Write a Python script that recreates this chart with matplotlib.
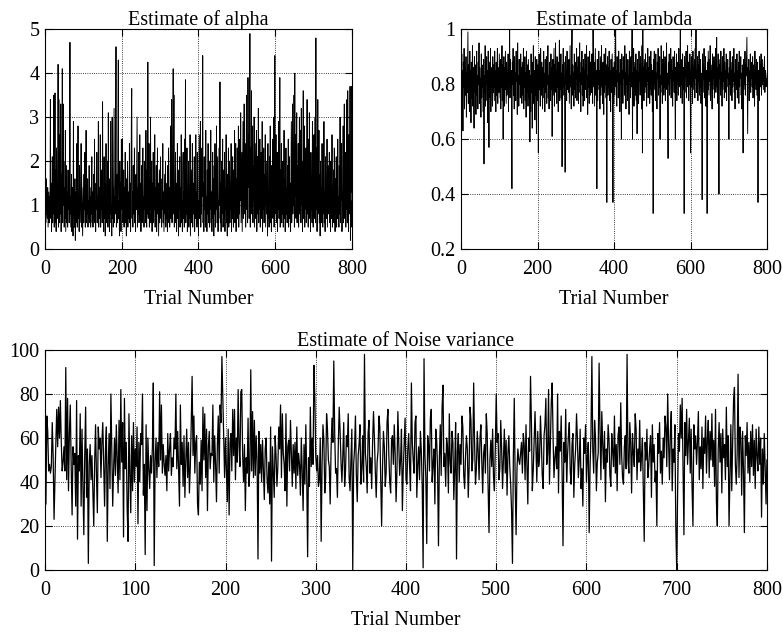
import matplotlib
matplotlib.use("Agg")
import matplotlib.pyplot as plt
from matplotlib.ticker import FuncFormatter

# estimated values, one per trial (1..800)
alpha = [
    2.2, 0.6, 1.6, 0.8, 1.1, 0.7, 1.4, 0.5, 0.9, 1.3, 0.6, 1.2, 0.9, 3.4, 0.7, 1.5, 0.4, 1.0, 2.1, 0.6,
    1.3, 0.8, 3.5, 0.5, 1.1, 3.55, 0.6, 1.8, 0.4, 2.3, 0.9, 1.5, 0.7, 4.2, 0.5, 3.4, 1.2, 0.6, 2.6, 0.8,
    3.3, 0.4, 1.7, 0.9, 4.1, 0.6, 3.3, 1.0, 2.0, 0.5, 1.4, 0.7, 2.7, 0.4, 1.1, 1.9, 0.6, 1.3, 0.5, 1.8,
    0.9, 1.5, 0.6, 2.0, 4.7, 0.8, 1.2, 0.5, 1.7, 0.4, 1.0, 1.4, 0.3, 2.9, 0.7, 1.1, 0.5, 1.6, 0.2, 0.9,
    1.3, 0.6, 2.4, 0.5, 1.0, 2.8, 0.7, 1.2, 0.4, 1.9, 0.6, 1.1, 0.9, 2.4, 0.5, 1.4, 0.8, 0.3, 1.0, 1.7,
    0.6, 1.2, 0.9, 2.2, 0.5, 1.0, 2.7, 0.6, 1.3, 0.8, 1.6, 0.5, 1.1, 0.7, 1.9, 0.6, 1.0, 1.4, 0.5, 1.2,
    0.8, 2.1, 0.6, 1.3, 0.5, 1.0, 1.7, 0.7, 2.5, 0.6, 1.1, 0.4, 1.5, 0.9, 2.2, 0.6, 1.2, 0.8, 2.9, 0.5,
    1.4, 0.7, 1.0, 2.6, 0.5, 1.3, 0.9, 1.8, 0.6, 3.35, 0.8, 1.2, 0.4, 2.1, 0.7, 1.5, 0.3, 1.1, 2.4, 0.6,
    1.3, 0.9, 2.0, 0.5, 3.1, 0.7, 1.2, 0.4, 1.6, 0.8, 2.9, 0.6, 1.0, 0.3, 3.0, 0.7, 1.4, 0.5, 1.9, 3.2,
    0.6, 1.2, 0.8, 2.3, 4.6, 0.5, 1.0, 1.7, 0.6, 2.8, 4.3, 0.7, 1.1, 0.3, 2.0, 0.8, 1.5, 0.4, 2.5, 0.9,
    1.2, 2.5, 0.6, 1.0, 1.8, 0.5, 1.4, 0.9, 2.2, 0.6, 1.1, 0.3, 1.6, 0.8, 2.0, 0.5, 1.3, 0.7, 1.0, 2.4,
    0.6, 1.5, 0.4, 1.1, 2.9, 3.65, 0.7, 1.3, 0.5, 1.9, 0.8, 1.0, 2.3, 0.6, 1.2, 0.4, 1.7, 0.9, 2.1, 3.0,
    0.5, 1.4, 0.8, 2.2, 0.6, 1.1, 2.6, 0.7, 1.5, 0.4, 1.0, 1.9, 0.6, 1.3, 2.3, 0.8, 1.2, 0.5, 2.0, 0.9,
    1.4, 0.6, 2.7, 1.0, 0.5, 1.8, 0.8, 4.25, 0.7, 1.3, 2.4, 0.5, 1.6, 0.9, 3.0, 0.6, 1.1, 2.0, 0.4, 1.5,
    0.8, 2.2, 0.6, 1.2, 0.9, 2.6, 0.5, 1.4, 0.7, 1.9, 0.4, 1.1, 2.3, 0.8, 1.5, 0.3, 1.0, 1.8, 0.6, 1.3,
    2.1, 0.7, 1.1, 0.5, 1.6, 0.9, 2.4, 0.6, 1.3, 0.4, 1.0, 1.7, 0.8, 2.0, 0.5, 1.2, 0.7, 1.5, 0.4, 1.9,
    0.9, 2.3, 0.6, 1.4, 0.5, 1.1, 2.8, 0.7, 1.6, 3.4, 0.6, 1.2, 2.0, 4.1, 0.8, 3.5, 0.5, 1.3, 0.9, 2.2,
    0.6, 1.5, 0.4, 1.0, 2.4, 0.7, 1.8, 0.3, 1.2, 0.9, 2.1, 0.5, 1.4, 0.8, 2.6, 0.6, 1.1, 0.4, 1.7, 2.2,
    0.7, 1.3, 0.5, 2.5, 1.0, 3.85, 0.6, 1.6, 0.8, 2.3, 0.4, 1.2, 0.9, 2.0, 0.5, 1.4, 0.7, 2.6, 0.3, 1.1,
    1.8, 0.6, 1.0, 2.4, 0.5, 1.5, 0.8, 1.2, 2.1, 0.4, 1.6, 0.7, 2.6, 0.9, 1.3, 0.5, 2.2, 0.6, 1.1, 0.3,
    1.4, 2.6, 0.7, 1.0, 2.9, 0.5, 1.7, 0.8, 2.3, 1.2, 4.4, 0.6, 1.5, 0.4, 2.1, 0.9, 1.3, 0.5, 2.7, 0.7,
    1.2, 0.4, 1.8, 0.8, 2.4, 0.6, 1.1, 2.0, 0.5, 1.5, 0.9, 2.7, 0.6, 1.3, 0.4, 1.0, 2.2, 0.7, 1.6, 0.3,
    1.9, 0.8, 2.4, 0.5, 1.2, 0.9, 2.8, 0.6, 1.4, 2.1, 0.4, 1.1, 0.7, 2.3, 1.0, 3.8, 0.6, 1.5, 0.4, 2.0,
    0.8, 1.3, 2.5, 0.5, 1.0, 1.8, 0.7, 2.2, 0.4, 1.4, 0.9, 2.6, 0.6, 1.2, 0.3, 1.7, 0.8, 2.3, 0.5, 1.1,
    2.0, 0.6, 1.5, 0.9, 2.4, 0.4, 1.3, 0.7, 2.1, 1.0, 0.5, 1.8, 0.8, 2.7, 0.6, 1.2, 2.4, 0.4, 1.6, 0.9,
    2.3, 0.7, 1.4, 2.8, 0.5, 1.9, 0.8, 2.5, 1.1, 3.1, 0.6, 1.5, 2.2, 0.4, 1.7, 2.9, 0.7, 1.2, 3.3, 0.8,
    1.6, 2.4, 0.5, 1.3, 3.5, 0.9, 2.1, 0.6, 3.9, 1.4, 2.6, 0.7, 1.8, 4.9, 0.5, 2.3, 1.0, 3.6, 0.8, 1.5,
    2.8, 0.6, 1.9, 1.1, 3.0, 0.5, 1.6, 2.4, 0.7, 1.2, 2.7, 0.4, 1.5, 2.1, 0.8, 3.2, 0.6, 1.3, 0.9, 2.5,
    0.5, 1.8, 2.2, 0.7, 1.1, 2.9, 0.4, 1.4, 0.9, 2.3, 0.6, 1.7, 1.0, 2.6, 0.5, 1.2, 2.0, 0.8, 1.5, 0.3,
    2.4, 0.7, 1.3, 0.5, 2.1, 1.0, 2.8, 0.6, 1.6, 0.4, 1.9, 0.9, 2.5, 0.7, 1.2, 3.0, 0.5, 1.4, 4.4, 0.8,
    1.5, 2.6, 0.6, 1.1, 2.2, 0.4, 1.7, 0.9, 2.9, 0.7, 1.3, 3.9, 0.5, 1.8, 1.0, 2.4, 0.6, 1.4, 0.8, 2.0,
    0.5, 1.2, 2.7, 0.7, 1.6, 0.4, 1.0, 2.3, 0.8, 1.4, 0.6, 1.9, 0.9, 2.5, 0.5, 1.1, 2.1, 0.7, 1.5, 0.4,
    1.8, 2.9, 0.6, 1.3, 3.3, 0.8, 2.2, 1.0, 3.5, 0.5, 4.0, 1.2, 2.6, 0.7, 1.6, 3.1, 0.6, 1.9, 0.9, 2.4,
    0.5, 1.4, 3.0, 0.8, 1.1, 2.7, 0.6, 3.2, 1.0, 2.0, 0.4, 1.5, 3.6, 0.7, 1.2, 2.8, 0.5, 1.7, 0.9, 2.3,
    0.6, 1.3, 3.4, 0.8, 1.9, 0.5, 2.5, 1.0, 3.1, 0.7, 1.4, 0.4, 2.2, 0.9, 1.6, 0.6, 2.9, 1.1, 0.5, 1.8,
    2.6, 0.7, 1.2, 3.0, 0.6, 4.8, 0.9, 2.3, 0.4, 1.5, 3.4, 0.8, 1.1, 2.7, 0.6, 1.7, 0.3, 2.0, 0.9, 1.4,
    0.6, 2.4, 1.0, 0.5, 1.8, 0.8, 2.9, 0.6, 1.3, 0.4, 2.1, 0.9, 1.6, 0.7, 2.5, 0.5, 1.2, 1.9, 0.8, 1.4,
    2.2, 0.6, 1.5, 0.4, 2.0, 1.1, 0.7, 2.6, 0.5, 1.3, 0.9, 1.8, 0.6, 2.3, 1.0, 0.4, 1.6, 0.8, 2.1, 0.5,
    1.4, 0.7, 2.5, 0.9, 1.2, 0.5, 1.9, 0.8, 3.0, 0.6, 1.6, 1.1, 2.4, 0.4, 1.3, 0.9, 2.8, 0.6, 1.5, 3.3,
    0.7, 1.2, 2.2, 0.5, 1.8, 0.9, 3.4, 0.6, 3.6, 1.0, 0.4, 2.6, 0.8, 1.4, 3.7, 0.2, 1.1, 0.5, 3.7, 1.3,
]

lam = [
    .82, .91, .74, .85, .63, .88, .79, .93, .71, .86, .80, .76, .90, .68, .84, .77, .89, .99, .73, .87,
    .81, .70, .92, .78, .85, .66, .88, .75, .83, .94, .72, .86, .79, .64, .90, .81, .77, .87, .69, .84,
    .92, .76, .83, .71, .88, .80, .95, .73, .86, .78, .82, .68, .91, .75, .87, .79, .84, .70, .89, .51,
    .83, .77, .94, .72, .86, .80, .90, .74, .85, .66, .92, .78, .57, .88, .81, .75, .93, .70, .86, .79,
    .84, .72, .90, .77, .87, .81, .74, .92, .79, .85, .70, .88, .76, .83, .93, .73, .86, .80, .77, .91,
    .82, .75, .89, .71, .85, .79, .94, .74, .87, .60, .83, .90, .72, .86, .78, .92, .81, .73, .88, .76,
    .84, .79, .91, .70, .87, .82, 1.0, .75, .89, .78, .85, .73, .42, .88, .80, .93, .76, .86, .71, .90,
    .79, .84, .74, .92, .81, .87, .69, .95, .77, .83, .72, .89, .80, .85, .75, .91, .78, .86, .73, .88,
    .82, .76, .93, .71, .86, .79, .90, .74, .84, .68, .92, .80, .77, .87, .72, .89, .81, .75, .85, .59,
    .83, .70, .91, .77, .86, .64, .88, .79, .94, .73, .85, .81, .67, .90, .76, .84, .62, .89, .80, .74,
    .87, .55, .83, .91, .78, .85, .72, .93, .80, .76, .88, .82, .71, .86, .79, .92, .75, .84, .70, .89,
    .81, .77, .90, .73, .86, .80, .94, .75, .83, .71, .88, .79, .85, .74, .91, .78, .86, .61, .82, .89,
    .76, .84, .93, .72, .87, .80, .95, .77, .85, .73, .90, .79, .83, .70, .88, .81, .96, .74, .86, .78,
    .91, .75, .84, .50, .87, .79, .93, .76, .82, .88, .72, .48, .90, .80, .85, .74, .92, .78, .86, .81,
    .77, .89, .73, .85, .94, .79, .83, .71, .90, 1.0, .76, .87, .80, .84, .72, .91, .78, .86, .75, .88,
    .82, .93, .74, .86, .79, .90, .73, .85, .81, .95, .77, .84, .70, .88, .80, .92, .76, .86, .72, .89,
    .80, .85, .74, .91, .78, .87, .82, .94, .75, .83, .69, .90, .79, .86, .73, .92, .81, .76, .88, .84,
    .77, .91, .80, .73, 1.0, .86, .79, .88, .72, .84, .93, .76, .85, .81, .42, .89, .74, .87, .80, .92,
    .78, .85, .71, .90, .82, .76, .94, .79, .86, .73, .88, .81, .69, .91, .77, .84, .80, .93, .75, .87,
    .37, .83, .90, .76, .86, .79, .92, .74, .85, .81, .70, .89, .77, .84, .91, .79, .37, .86, .73, .88,
    .82, .76, .93, 1.0, .79, .85, .72, .90, .81, .87, .75, .92, .78, .84, .70, .89, .80, .86, .60, .91,
    .77, .85, .73, .90, .82, .88, .76, .94, .79, .84, .71, .91, .80, .86, .74, .89, .78, .83, .69, .92,
    .81, .87, .75, .90, .79, .85, 1.0, .60, .84, .78, .93, .72, .86, .80, .88, .76, .91, .74, .85, .62,
    .89, .79, .84, .73, .92, .81, .87, .76, .90, .78, .85, .71, .94, .55, 1.0, .80, .86, .74, .89, .82,
    .77, .91, .79, .85, .72, .88, .81, .93, .75, .86, .80, .90, .73, .84, .78, .92, .76, .87, .81, .70,
    .85, .33, .89, .78, .92, .80, .86, .74, .91, .79, .84, .71, .88, .82, .93, .76, .85, .79, .90, .60,
    .83, .77, .94, .80, .86, .73, .89, .81, .92, .76, .85, .79, .90, .74, .87, .82, .95, .78, .84, .72,
    .53, .88, .80, .91, .76, .86, .82, .93, .75, .89, .79, .85, .72, .90, .81, .87, .77, .92, .80, .60,
    .86, .78, .91, .74, .88, .81, .84, .76, .93, .79, .87, .82, 1.0, .75, .89, .80, .85, .73, .91, .78,
    .86, .81, .33, .90, .77, .87, .83, .92, .75, .85, .79, .94, .81, .88, .74, .86, .80, .91, .76, .55,
    .84, .90, .79, .87, .73, .92, .81, .86, .78, .89, .75, .93, .82, 1.0, .77, .85, .80, .90, .74, .87,
    .81, .92, .76, .86, .79, .89, .73, .84, .80, .38, .91, .77, .87, .82, .93, .75, .86, .79, .90, .72,
    .85, .80, .33, .88, .78, .92, .84, .76, .89, .81, .94, .74, .87, .80, .85, .71, .91, .78, .86, .82,
    .90, .75, .88, .81, .93, .77, .85, .97, .79, .86, .73, .91, .80, .40, .87, .82, .89, .76, .92, .80,
    .84, .72, .90, .78, .86, .81, .93, .75, .88, .80, .85, .77, .91, .74, .87, .82, .89, .79, .84, .60,
    .86, .80, .92, .76, .88, .82, .85, .74, .90, .79, .87, .81, .93, .77, .84, .71, .89, .80, .86, .78,
    .91, .75, .85, .80, .88, .73, .92, .79, .86, .82, .90, .76, .84, .71, .87, .81, .55, .89, .78, .85,
    .80, .92, .76, .87, .83, .90, .97, .79, .62, .86, .81, .89, .74, .85, .80, .91, .77, .88, .82, .86,
    .79, .90, .75, .87, .81, .84, .72, .92, .80, .86, .78, .89, .76, .83, .88, .37, .81, .85, .74, .90,
    .82, .87, .79, .91, .76, .85, .80, .89, .84, .78, .86, .81, .90, .77, .85, .83, .79, .82, .80, .84,
]

noise_var = [
    30, 70, 63, 45, 48, 44, 47, 67, 52, 23, 41, 58, 73, 56, 74, 60, 77, 58, 45, 49,
    56, 45, 92, 41, 78, 36, 62, 75, 47, 25, 56, 48, 53, 29, 77, 14, 52, 45, 71, 29,
    64, 38, 16, 52, 74, 33, 55, 3, 48, 57, 41, 52, 36, 20, 49, 66, 43, 26, 65, 55,
    60, 42, 58, 67, 48, 29, 55, 65, 13, 47, 62, 37, 80, 54, 29, 46, 60, 43, 66, 51,
    35, 68, 41, 82, 49, 67, 15, 78, 46, 58, 28, 13, 71, 44, 26, 61, 36, 67, 40, 55,
    47, 65, 21, 58, 40, 62, 57, 80, 34, 48, 7, 66, 27, 60, 46, 37, 52, 44, 56, 85,
    2, 49, 60, 42, 58, 47, 81, 50, 75, 44, 57, 48, 43, 52, 36, 62, 45, 55, 62, 43,
    51, 47, 60, 55, 80, 46, 63, 45, 29, 75, 48, 58, 38, 61, 33, 50, 64, 42, 58, 35,
    47, 66, 88, 52, 70, 44, 58, 61, 30, 25, 49, 39, 59, 36, 74, 50, 71, 42, 64, 27,
    56, 63, 46, 53, 52, 75, 40, 61, 48, 31, 57, 70, 44, 75, 67, 97, 78, 59, 42, 60,
    45, 31, 64, 25, 58, 62, 45, 73, 52, 73, 41, 60, 49, 82, 56, 47, 81, 82, 52, 40,
    57, 27, 51, 44, 69, 38, 46, 91, 45, 72, 42, 68, 43, 61, 50, 5, 63, 44, 57, 40,
    59, 46, 32, 55, 60, 42, 35, 49, 30, 65, 4, 56, 45, 33, 61, 52, 38, 47, 65, 55,
    75, 42, 71, 53, 48, 36, 71, 29, 56, 59, 45, 68, 53, 38, 57, 44, 58, 37, 65, 43,
    53, 48, 34, 60, 45, 27, 57, 39, 66, 43, 6, 51, 38, 74, 47, 60, 48, 93, 78, 52,
    45, 52, 38, 41, 60, 13, 48, 66, 59, 35, 42, 71, 64, 50, 47, 30, 55, 69, 58, 95,
    62, 44, 46, 33, 57, 74, 63, 49, 40, 52, 67, 38, 45, 61, 56, 71, 42, 36, 50, 64,
    0, 48, 55, 70, 43, 31, 52, 57, 66, 39, 46, 61, 40, 98, 53, 47, 35, 62, 68, 44,
    51, 37, 58, 72, 60, 45, 33, 49, 54, 70, 65, 41, 20, 47, 63, 56, 38, 44, 67, 73,
    52, 40, 35, 59, 61, 48, 66, 53, 31, 45, 72, 57, 43, 50, 64, 27, 46, 58, 69, 41,
    39, 55, 62, 47, 36, 85, 58, 50, 44, 67, 70, 33, 48, 56, 41, 63, 54, 38, 1, 96,
    52, 42, 12, 61, 57, 45, 69, 73, 40, 48, 55, 30, 64, 59, 46, 11, 51, 66, 43, 74,
    84, 47, 53, 38, 60, 56, 35, 71, 49, 44, 63, 58, 32, 46, 67, 5, 54, 62, 40, 57,
    48, 70, 65, 43, 37, 52, 61, 55, 33, 47, 74, 68, 45, 50, 85, 58, 39, 46, 63, 54,
    41, 60, 66, 49, 35, 53, 57, 44, 71, 62, 38, 17, 50, 59, 47, 64, 42, 36, 56, 80,
    58, 62, 41, 46, 68, 55, 37, 50, 64, 44, 59, 34, 53, 61, 47, 39, 27, 3, 52, 78,
    40, 16, 46, 55, 50, 48, 53, 58, 44, 62, 57, 41, 66, 49, 30, 60, 54, 88, 67, 36,
    45, 59, 72, 55, 40, 63, 47, 51, 70, 58, 43, 37, 61, 66, 78, 48, 53, 82, 39, 57,
    76, 85, 60, 42, 51, 56, 46, 80, 35, 63, 54, 70, 44, 11, 58, 49, 73, 40, 52, 61,
    67, 45, 39, 57, 62, 33, 48, 55, 71, 59, 42, 50, 64, 37, 46, 29, 60, 53, 66, 40,
    51, 58, 17, 47, 62, 97, 55, 44, 68, 60, 36, 49, 53, 94, 64, 41, 72, 57, 46, 63,
    31, 55, 49, 66, 59, 43, 38, 62, 54, 47, 70, 44, 57, 36, 61, 65, 48, 76, 52, 42,
    39, 56, 61, 46, 98, 50, 44, 67, 58, 35, 62, 53, 47, 71, 64, 41, 55, 49, 68, 45,
    52, 60, 37, 13, 58, 50, 64, 42, 47, 55, 61, 33, 66, 49, 57, 40, 45, 20, 62, 53,
    67, 44, 54, 39, 60, 51, 70, 65, 47, 80, 58, 41, 63, 72, 36, 55, 49, 66, 20, 0,
    35, 62, 54, 75, 60, 78, 45, 16, 67, 52, 73, 48, 59, 69, 44, 64, 38, 20, 66, 55,
    61, 48, 58, 72, 41, 56, 46, 65, 37, 60, 53, 70, 44, 59, 68, 42, 63, 50, 71, 47,
    59, 38, 73, 31, 20, 55, 67, 49, 62, 35, 64, 51, 57, 41, 74, 47, 61, 20, 43, 66,
    36, 58, 77, 83, 48, 39, 53, 89, 42, 65, 60, 34, 63, 46, 17, 61, 52, 67, 44, 58,
    40, 63, 47, 66, 43, 59, 37, 64, 52, 45, 65, 48, 60, 24, 55, 39, 62, 47, 30, 50,
]

plt.rcParams['font.family'] = ['Liberation Serif', 'DejaVu Serif']
plt.rcParams['font.size'] = 14.5


def style(ax):
    ax.tick_params(direction='in', top=True, right=True, length=5, width=0.8)
    ax.tick_params(axis='x', pad=8)
    ax.tick_params(axis='y', pad=4)
    ax.grid(True, linestyle=':', color='black', linewidth=0.6)
    for s in ax.spines.values():
        s.set_linewidth(0.8)


fig = plt.figure(figsize=(7.83, 6.34), dpi=100)

# top left: alpha
ax1 = fig.add_axes([0.0575, 0.607, 0.392, 0.347])
ax1.plot(range(1, len(alpha) + 1), alpha, color='black', linewidth=0.65)
ax1.set_xlim(0, 800)
ax1.set_ylim(0, 5)
ax1.set_xticks([0, 200, 400, 600, 800])
ax1.set_yticks([0, 1, 2, 3, 4, 5])
ax1.set_title('Estimate of alpha', fontsize=14.5, pad=3)
ax1.set_xlabel('Trial Number', labelpad=8)
style(ax1)

# top right: lambda
ax2 = fig.add_axes([0.5888, 0.607, 0.391, 0.347])
ax2.plot(range(1, len(lam) + 1), lam, color='black', linewidth=0.65)
ax2.set_xlim(0, 800)
ax2.set_ylim(0.2, 1)
ax2.set_xticks([0, 200, 400, 600, 800])
ax2.set_yticks([0.2, 0.4, 0.6, 0.8, 1.0])
ax2.yaxis.set_major_formatter(FuncFormatter(lambda v, p: '%g' % round(v, 2)))
ax2.set_title('Estimate of lambda', fontsize=14.5, pad=3)
ax2.set_xlabel('Trial Number', labelpad=8)
style(ax2)

# bottom: noise variance
ax3 = fig.add_axes([0.0575, 0.101, 0.922, 0.347])
ax3.plot(range(1, len(noise_var) + 1), noise_var, color='black', linewidth=0.9)
ax3.set_xlim(0, 800)
ax3.set_ylim(0, 100)
ax3.set_xticks(range(0, 801, 100))
ax3.set_yticks(range(0, 101, 20))
ax3.set_title('Estimate of Noise variance', fontsize=14.5, pad=3)
ax3.set_xlabel('Trial Number', labelpad=8)
style(ax3)

fig.savefig('out.png', dpi=100)
